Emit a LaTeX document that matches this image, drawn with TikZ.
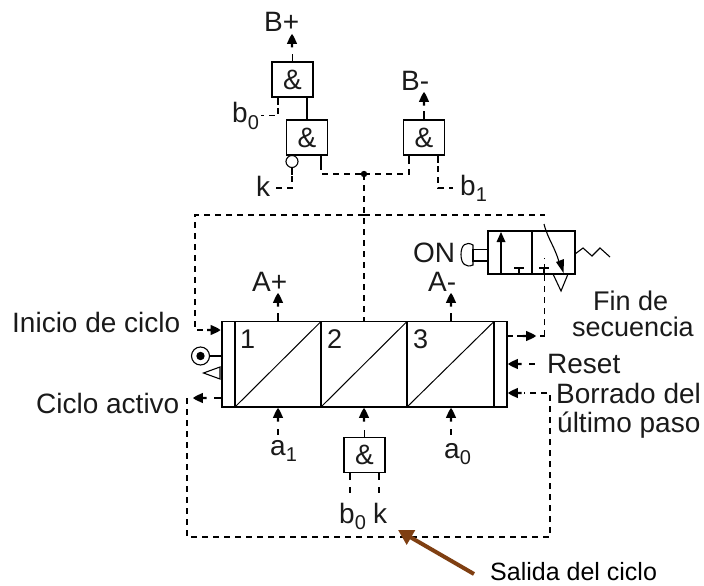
\documentclass[tikz,border=0pt]{standalone}
\usepackage{fontspec}
\setmainfont{Liberation Sans}
\usetikzlibrary{arrows.meta}
\definecolor{brownarrow}{HTML}{7F3F12}
\definecolor{ink}{HTML}{1A1A1A}
\newcommand{\subdigit}[2]{\raisebox{-#2pt}{\fontsize{20}{20}\selectfont #1}}
\tikzset{
  solidline/.style={draw=black,line width=1.1pt,line cap=butt},
  sigline/.style={draw=black,line width=1.1pt,dash pattern=on 6pt off 5pt},
  gate/.style={draw=black,line width=1.2pt,fill=white,minimum width=41pt,minimum height=35pt,inner sep=0pt,font=\fontsize{28}{28}\selectfont,text=ink},
  lab/.style={inner sep=0pt,text=ink,font=\fontsize{28}{28}\selectfont,anchor=base west},
  num/.style={inner sep=0pt,text=ink,font=\fontsize{27}{27}\selectfont,anchor=base west},
  pics/headmark/.style={code={\fill[black] (0,0)--(2,3)--(5.2,10)--(1.1,9.8)--(1.1,13.5)--(-1.1,13.5)--(-1.1,9.8)--(-5.2,10)--(-2,3)--cycle;}}
}
\begin{document}
\begin{tikzpicture}[x=1pt,y=-1pt]
\useasboundingbox (0,0) rectangle (704,586);
% gates
\node[gate] (g1) at (292.5,79.5) {\&};
\node[gate] (g2) at (307,137.5) {\&};
\node[gate] (g3) at (424,137.5) {\&};
\node[gate] (g4) at (364.5,455) {\&};
% coordinates
\coordinate (junction) at (364,174);
\coordinate (busL) at (195,215);
\coordinate (busM) at (364,215);
\coordinate (busR) at (545,215);
\coordinate (mainTop) at (364,321);
% top outputs
\pic at (292,34) {headmark};
\draw[solidline] (g1.north) -- (292.5,54);
\pic at (424,92) {headmark};
\draw[solidline] (g3.north) -- (424,111);
% gate 1 / gate 2
\draw[solidline] (278,97) -- (278,105);
\draw[sigline] (278,108) -- (278,115.5) -- (261,115.5);
\draw[solidline] (307,97) -- (307,120);
\node[draw=black,line width=1.1pt,fill=white,circle,minimum size=12pt,inner sep=0pt] (neg) at (292,161.5) {};
\draw[solidline] (neg.south) -- (292,175);
\draw[sigline] (292,176) -- (292,188) -- (275,188);
\draw[solidline] (321,155) -- (321,164);
\draw[sigline] (321,164) -- (321,174) -- (junction);
\draw[sigline] (junction) -- (409,174) -- (409,163);
\draw[solidline] (409,155) -- (409,163);
\draw[solidline] (438,155) -- (438,163);
\draw[sigline] (438,166) -- (438,188) -- (453,188);
\fill[black] (junction) circle (3.2pt);
% bus
\draw[sigline] (junction) -- (busM) -- (mainTop);
\draw[sigline] (busM) -- (busL) -- (195,330) -- (204,330);
\draw[sigline] (busM) -- (busR);
% main block
\draw[line width=1.3pt,fill=white] (222,321.5) rectangle (507,407);
\foreach \xa/\xb in {235/321,321/407,407/494}{
  \draw[line width=1.2pt] (\xa,321.5) -- (\xa,407);
  \draw[line width=1pt] (\xa,407) -- (\xb,321.5);
}
\draw[line width=1.2pt] (494,321.5) -- (494,407);
\node[num] (n1) at (240,348) {1};
\node[num] (n2) at (327,348) {2};
\node[num] (n3) at (413,348) {3};
% top outputs of main
\pic at (278,293) {headmark};
\draw[solidline] (278,313) -- (278,321.5);
\pic at (451,293) {headmark};
\draw[solidline] (451,313) -- (451,321.5);
% bottom inputs
\foreach \x in {278,364,451}{
  \pic at (\x,408) {headmark};
}
\draw[sigline] (278,429) -- (278,435);
\draw[sigline] (451,429) -- (451,435);
\draw[solidline] (364.5,430) -- (g4.north);
\draw[solidline] (350,472.5) -- (350,480);
\draw[sigline] (350,487) -- (350,497);
\draw[solidline] (379,472.5) -- (379,480);
\draw[sigline] (379,487) -- (379,497);
% left side
\pic[rotate=-90] at (220.5,330) {headmark};
\node[draw=black,line width=1.1pt,circle,minimum size=18pt,inner sep=0pt] (tgt) at (200.5,356) {};
\fill[black] (tgt.center) circle (4.2pt);
\draw[solidline] (tgt.east) -- (222,356);
\draw[line width=1.1pt,fill=white] (203.5,373) -- (220,367) -- (220,379) -- cycle;
\pic[rotate=90] at (193,398) {headmark};
\draw[solidline] (214,398) -- (222,398);
% outer return loop
\draw[sigline] (187,398) -- (187,537) -- (550,537) -- (550,393) -- (524,393);
% right side
\pic[rotate=90] at (508,364) {headmark};
\draw[sigline] (529,364) -- (536,364);
\pic[rotate=90] at (508,393) {headmark};
\draw[solidline] (507,336) -- (513,336);
\draw[sigline] (517,336) -- (523,336);
\pic[rotate=-90] at (536,336) {headmark};
\draw[sigline] (544.5,336) -- (544.5,258);
\draw[sigline] (540,336) -- (544.5,336);
% valve
\draw[line width=1.2pt] (488,231) rectangle (575,274);
\draw[line width=1.2pt] (532,231) -- (532,274);
\draw[line width=1.1pt] (501,274) -- (501,240);
\fill[black] (501,232) -- (505.5,242) -- (496.5,242) -- cycle;
\draw[line width=1.1pt] (519,274) -- (519,268) (514,268) -- (524,268);
\draw[line width=1.1pt] (544,274) -- (544,268) (539,268) -- (549,268);
\draw[line width=1.1pt] (544,224) .. controls (548,240) and (556,248) .. (560,266);
\fill[black] (563.5,273) -- (556,262) -- (564,259) -- cycle;
\draw[line width=1.1pt] (553,274) -- (561,291) -- (568,274);
\draw[line width=1.1pt] (575,254) -- (583,248) -- (592,256) -- (600,248) -- (610,257);
\draw[line width=1.1pt] (488,249.5) -- (473,249.5) -- (473,261) -- (488,261);
\draw[line width=1.1pt] (473,245) .. controls (466,241) and (461,245) .. (461,254.5) .. controls (461,264) and (466,268) .. (473,265) -- cycle;
% brown arrow
\coordinate (brownTail) at (474,574);
\coordinate (brownTip) at (398,530);
\draw[brownarrow,line width=4pt,-{Triangle[length=15pt,width=16pt]}] (brownTail) -- (brownTip);
% labels
\node[lab] (lbp) at (264,32) {B+};
\node[lab] (lbm) at (401,90) {B-};
\node[lab] (lb0) at (232,122) {b\subdigit{0}{7}};
\node[lab] (lk) at (256,196) {k};
\node[lab] (lb1) at (460,195) {b\subdigit{1}{6}};
\node[lab] (lon) at (413,262) {ON};
\node[lab] (lap) at (252,291) {A+};
\node[lab] (lam) at (428,291) {A-};
\node[lab,font=\fontsize{27}{27}\selectfont] (lfin) at (593,310) {Fin de};
\node[lab,font=\fontsize{27}{27}\selectfont] (lsec) at (572,336) {secuencia};
\node[lab] (lini) at (12,332) {Inicio de ciclo};
\node[lab] (lcic) at (36,413) {Ciclo activo};
\node[lab] (lres) at (547,373) {Reset};
\node[lab] (lbor) at (556,403) {Borrado del};
\node[lab] (lult) at (557,432) {último paso};
\node[lab] (la1) at (270,455) {a\subdigit{1}{6}};
\node[lab] (la0) at (444,458) {a\subdigit{0}{6}};
\node[lab] (lb00) at (339,523) {b\subdigit{0}{6}};
\node[lab] (lk2) at (373,523) {k};
\node[lab,text=black,font=\fontsize{25}{25}\selectfont] (lsal) at (490,580) {Salida del ciclo};
\end{tikzpicture}
\end{document}
